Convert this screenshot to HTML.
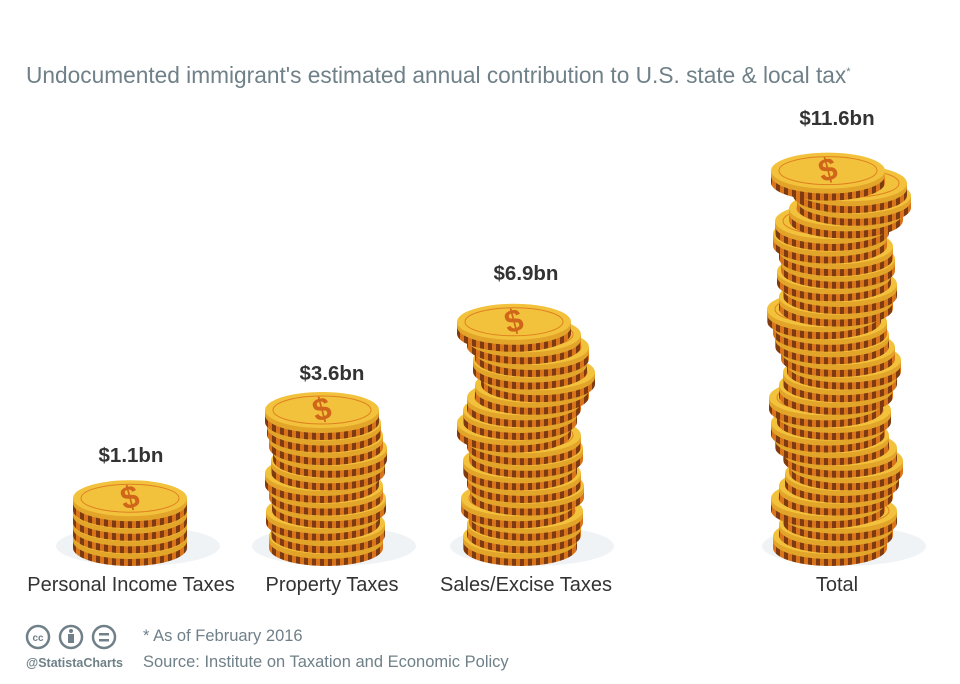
<!DOCTYPE html>
<html><head><meta charset="utf-8"><style>
body{margin:0;background:#fff;font-family:"Liberation Sans",sans-serif}
#w{position:relative;width:960px;height:684px;overflow:hidden}
</style></head><body><div id="w">
<svg id="s" width="960" height="684" xmlns="http://www.w3.org/2000/svg">
<defs>
<pattern id="st" width="8" height="20" patternUnits="userSpaceOnUse">
<rect width="8" height="20" fill="#d9741a"/><rect width="4" height="20" fill="#7e3a10"/>
</pattern>
</defs>
<text x="26" y="83" font-size="22.7" fill="#6f8088" font-family="Liberation Sans, sans-serif">Undocumented immigrant's estimated annual contribution to U.S. state &amp; local tax<tspan font-size="11" dy="-8">*</tspan></text>
<g id="coins"></g>
<g font-size="20" fill="#333" text-anchor="middle" font-family="Liberation Sans, sans-serif">
<text x="131" y="591">Personal Income Taxes</text>
<text x="332" y="591">Property Taxes</text>
<text x="526" y="591">Sales/Excise Taxes</text>
<text x="837" y="591">Total</text>
<g font-weight="bold" font-size="20.5">
<text x="131" y="462">$1.1bn</text>
<text x="332" y="380">$3.6bn</text>
<text x="526" y="280">$6.9bn</text>
<text x="837" y="125">$11.6bn</text>
</g></g>
<g fill="none" stroke="#6f8088" stroke-width="2.5">
<circle cx="38" cy="637" r="11"/><circle cx="71" cy="637" r="11"/><circle cx="104" cy="637" r="11"/>
</g>
<text x="38" y="641" font-size="10" font-weight="bold" fill="#6f8088" text-anchor="middle">cc</text>
<circle cx="71" cy="631" r="2" fill="#6f8088"/><rect x="68" y="634" width="6" height="9" fill="#6f8088"/>
<rect x="99" y="633" width="10" height="2.5" fill="#6f8088"/><rect x="99" y="639" width="10" height="2.5" fill="#6f8088"/>
<text x="26" y="667" font-size="12.5" font-weight="bold" fill="#6f8088">@StatistaCharts</text>
<text x="143" y="641" font-size="16.5" fill="#6f8088">* As of February 2016</text>
<text x="143" y="667" font-size="16.5" fill="#6f8088">Source: Institute on Taxation and Economic Policy</text>
</svg>
<script>
var g=document.getElementById('coins'),h='';
function stack(cx,n,jit){
 h+='<ellipse cx="'+(cx+8)+'" cy="546" rx="82" ry="20" fill="#f0f3f5"/>';
 var ys=536;
 for(var i=0;i<n;i++){
  var y=ys-i*12.6, x=cx+(jit[i%jit.length]||0);
  h+='<path d="M'+(x-57)+','+y+' v12 a57,18 0 0 0 114,0 v-12 z" fill="url(#st)"/>';
  h+='<path d="M'+(x-57)+','+y+' v5 a57,18 0 0 0 114,0 v-5 z" fill="#e3a42a"/>';
  h+='<ellipse cx="'+x+'" cy="'+y+'" rx="57" ry="18" fill="#f2c23c"/>';
  h+='<ellipse cx="'+x+'" cy="'+y+'" rx="49" ry="14" fill="none" stroke="#e08020" stroke-width="1"/>';
  if(i==n-1) h+='<text x="'+x+'" y="'+(y+10)+'" font-size="32" font-weight="bold" fill="#d0661a" text-anchor="middle" transform="rotate(-15 '+x+' '+y+')">$</text>';
 }
}
stack(130,4,[0]);
stack(326,11,[0,2,-3,3,0,-4,2,4,0,-2,-4]);
stack(524,18,[-4,0,2,-6,3,0,-4,2,0,-10,-4,0,8,14,6,8,0,-10]);
stack(836,30,[-6,0,4,-8,0,6,10,4,-4,-8,-2,-10,0,4,8,2,-4,-6,-12,0,4,-2,2,0,-6,-4,10,18,14,-8]);
g.innerHTML=h;
</script>
</div></body></html>
